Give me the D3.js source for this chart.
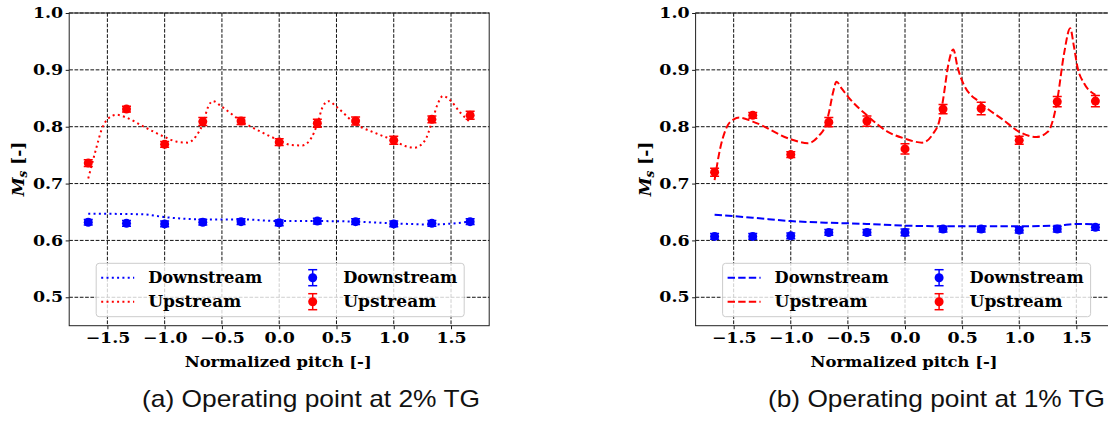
<!DOCTYPE html>
<html><head><meta charset="utf-8">
<script src="https://cdn.jsdelivr.net/npm/d3@7"></script>
<style>body{margin:0;background:#fff} svg{display:block}</style>
</head><body><svg id="c" width="1108" height="428"></svg>
<script>
// ---------- data ----------
const pitch = [-1.667,-1.333,-1.0,-0.667,-0.333,0,0.333,0.667,1.0,1.333,1.667];
const xTicks = [-1.5,-1.0,-0.5,0,0.5,1.0,1.5];
const yTicks = [0.5,0.6,0.7,0.8,0.9,1.0];
const seriesNames = ["Downstream","Upstream"];
const captions = ["(a) Operating point at 2% TG","(b) Operating point at 1% TG"];
const xLabel = "Normalized pitch [-]";

// panel (a) measured points
const aUp      = [0.736,0.831,0.769,0.809,0.810,0.773,0.806,0.810,0.776,0.813,0.820];
const aUpErr   = [0.006,0.005,0.005,0.007,0.006,0.006,0.007,0.007,0.007,0.006,0.007];
const aDown    = [0.632,0.630,0.629,0.632,0.633,0.631,0.634,0.633,0.629,0.630,0.633];
const aDownErr = [0.005,0.005,0.005,0.005,0.005,0.005,0.005,0.005,0.005,0.005,0.005];
// panel (a) simulated curves
const aUpLineX = [-1.667,-1.60,-1.55,-1.50,-1.42,-1.333,-1.20,-1.00,-0.90,-0.80,-0.72,-0.667,-0.62,-0.58,-0.50,-0.333,-0.15,0.00,0.10,0.20,0.28,0.333,0.38,0.43,0.50,0.667,0.85,1.00,1.10,1.18,1.27,1.333,1.38,1.43,1.50,1.58,1.667];
const aUpLineY = [0.709,0.760,0.795,0.813,0.821,0.816,0.802,0.782,0.774,0.772,0.785,0.805,0.835,0.845,0.835,0.810,0.790,0.776,0.768,0.767,0.780,0.805,0.835,0.845,0.835,0.805,0.788,0.776,0.766,0.763,0.775,0.808,0.838,0.854,0.845,0.825,0.808];
const aDownLineX = [-1.667,-1.2,-1.0,-0.667,-0.333,0,0.333,0.667,1.0,1.333,1.667];
const aDownLineY = [0.647,0.646,0.641,0.637,0.637,0.634,0.634,0.633,0.630,0.628,0.633];

// panel (b) measured points
const bUp      = [0.720,0.820,0.751,0.808,0.810,0.761,0.831,0.832,0.776,0.844,0.845];
const bUpErr   = [0.007,0.005,0.005,0.008,0.009,0.009,0.008,0.011,0.007,0.009,0.010];
const bDown    = [0.607,0.607,0.608,0.614,0.614,0.614,0.620,0.620,0.618,0.620,0.623];
const bDownErr = [0.005,0.005,0.005,0.005,0.005,0.006,0.005,0.005,0.005,0.005,0.005];
// panel (b) simulated curves
const bUpLineX = [-1.667,-1.62,-1.57,-1.50,-1.45,-1.333,-1.00,-0.85,-0.75,-0.70,-0.667,-0.63,-0.60,-0.55,-0.50,-0.333,-0.15,0.00,0.15,0.25,0.30,0.333,0.38,0.423,0.46,0.51,0.667,0.86,1.00,1.15,1.25,1.30,1.333,1.393,1.446,1.48,1.51,1.569,1.667];
const bUpLineY = [0.706,0.760,0.795,0.813,0.816,0.809,0.778,0.771,0.785,0.800,0.824,0.860,0.879,0.866,0.853,0.820,0.791,0.779,0.772,0.789,0.810,0.847,0.910,0.936,0.905,0.876,0.841,0.812,0.791,0.782,0.791,0.815,0.847,0.929,0.973,0.940,0.905,0.876,0.856];
const bDownLineX = [-1.667,-1.333,-1.0,-0.667,-0.333,0,0.333,0.667,1.0,1.333,1.5,1.667];
const bDownLineY = [0.645,0.640,0.634,0.631,0.629,0.626,0.625,0.625,0.625,0.626,0.629,0.628];

// ---------- drawing ----------
const svg = d3.select("#c");
const RED = "#ff0000", BLUE = "#0000ff";
const SERIF = "'DejaVu Serif', serif";
const TS = 1.2; // horizontal stretch of tick labels

const panels = [
  {x0:69.2, x1:489.2, up:aUp, upErr:aUpErr, down:aDown, downErr:aDownErr,
   upLX:aUpLineX, upLY:aUpLineY, dnLX:aDownLineX, dnLY:aDownLineY, dash:"2,3.3", cap:captions[0], capX:311, capW:338},
  {x0:695.6, x1:1114.4, up:bUp, upErr:bUpErr, down:bDown, downErr:bDownErr,
   upLX:bUpLineX, upLY:bUpLineY, dnLX:bDownLineX, dnLY:bDownLineY, dash:"7.4,3.2", cap:captions[1], capX:936.5, capW:337}
];

const yTop = 13, yBot = 325.7;

panels.forEach((p, pi) => {
  const x = d3.scaleLinear().domain([-1.8333, 1.8333]).range([p.x0, p.x1]);
  const y = d3.scaleLinear().domain([0.45, 1.0]).range([yBot, yTop]);
  const g = svg.append("g");
  const clipId = "clip" + pi;
  svg.append("clipPath").attr("id", clipId).append("rect")
    .attr("x", p.x0).attr("y", yTop).attr("width", p.x1 - p.x0).attr("height", yBot - yTop);

  // grid
  const grid = g.append("g").attr("stroke", "#111").attr("stroke-width", 1).attr("stroke-dasharray", "3.7,1.6");
  grid.selectAll(".gx").data(xTicks).enter().append("line")
    .attr("x1", d => x(d)).attr("x2", d => x(d)).attr("y1", yTop).attr("y2", yBot);
  grid.selectAll(".gy").data(yTicks).enter().append("line")
    .attr("x1", p.x0).attr("x2", p.x1).attr("y1", d => y(d)).attr("y2", d => y(d));

  // axes
  const xa = g.append("g").attr("transform", `translate(0,${yBot})`)
    .call(d3.axisBottom(x).tickValues(xTicks).tickSize(3.5).tickPadding(3.5)
      .tickFormat(d => d3.format(".1f")(d).replace("-", "\u2212")));
  const ya = g.append("g").attr("transform", `translate(${p.x0},0)`)
    .call(d3.axisLeft(y).tickValues(yTicks).tickSize(3.5).tickPadding(3.5).tickFormat(d3.format(".1f")));
  [xa, ya].forEach(a => {
    a.select(".domain").remove();
    a.selectAll("line").attr("stroke", "#000").attr("stroke-width", 0.9);
    a.selectAll("text").attr("font-family", SERIF).attr("font-weight", "bold")
      .attr("font-size", 14.5).attr("fill", "#000").attr("transform", `scale(${TS},1)`);
  });
  ya.selectAll("text").attr("x", -6 / TS);

  // spines
  g.append("rect").attr("x", p.x0).attr("y", yTop).attr("width", p.x1 - p.x0).attr("height", yBot - yTop)
    .attr("fill", "none").attr("stroke", "#222").attr("stroke-width", 1);

  // lines
  const line = d3.line().curve(d3.curveMonotoneX);
  const dl = g.append("g").attr("clip-path", `url(#${clipId})`);
  dl.append("path").attr("d", line(p.dnLX.map((v, i) => [x(v), y(p.dnLY[i])])))
    .attr("fill", "none").attr("stroke", BLUE).attr("stroke-width", 2).attr("stroke-dasharray", p.dash);
  dl.append("path").attr("d", line(p.upLX.map((v, i) => [x(v), y(p.upLY[i])])))
    .attr("fill", "none").attr("stroke", RED).attr("stroke-width", 2).attr("stroke-dasharray", p.dash);

  // error bars + points
  const drawEB = (vals, errs, col) => {
    const eg = dl.append("g").attr("stroke", col).attr("stroke-width", 1.5);
    vals.forEach((v, i) => {
      const cx = x(pitch[i]);
      eg.append("line").attr("x1", cx).attr("x2", cx).attr("y1", y(v - errs[i])).attr("y2", y(v + errs[i]));
      eg.append("line").attr("x1", cx - 4.5).attr("x2", cx + 4.5).attr("y1", y(v - errs[i])).attr("y2", y(v - errs[i]));
      eg.append("line").attr("x1", cx - 4.5).attr("x2", cx + 4.5).attr("y1", y(v + errs[i])).attr("y2", y(v + errs[i]));
      dl.append("circle").attr("cx", cx).attr("cy", y(v)).attr("r", 4.5).attr("fill", col);
    });
  };
  drawEB(p.down, p.downErr, BLUE);
  drawEB(p.up, p.upErr, RED);

  // legend
  const lx = p.x0 + 27, ly = 263.3, lw = 368, lh = 53.4;
  const lg = g.append("g");
  lg.append("rect").attr("x", lx).attr("y", ly).attr("width", lw).attr("height", lh).attr("rx", 3)
    .attr("fill", "#fff").attr("fill-opacity", 0.8).attr("stroke", "#cccccc").attr("stroke-width", 1);
  const rows = [ly + 14.4, ly + 38.4];
  [BLUE, RED].forEach((col, i) => {
    const tl = i === 0 ? 114 : 93;
    lg.append("line").attr("x1", lx + 5).attr("x2", lx + 38).attr("y1", rows[i]).attr("y2", rows[i])
      .attr("stroke", col).attr("stroke-width", 2).attr("stroke-dasharray", p.dash);
    lg.append("text").attr("x", lx + 52).attr("y", rows[i]).attr("dy", "0.36em").text(seriesNames[i])
      .attr("font-family", SERIF).attr("font-weight", "bold").attr("font-size", 16).attr("fill", "#000")
      .attr("textLength", tl).attr("lengthAdjust", "spacingAndGlyphs");
    const mx = lx + 216.5;
    const eb = lg.append("g").attr("stroke", col).attr("stroke-width", 1.5);
    eb.append("line").attr("x1", mx).attr("x2", mx).attr("y1", rows[i] - 8).attr("y2", rows[i] + 8);
    eb.append("line").attr("x1", mx - 4.5).attr("x2", mx + 4.5).attr("y1", rows[i] - 8).attr("y2", rows[i] - 8);
    eb.append("line").attr("x1", mx - 4.5).attr("x2", mx + 4.5).attr("y1", rows[i] + 8).attr("y2", rows[i] + 8);
    lg.append("circle").attr("cx", mx).attr("cy", rows[i]).attr("r", 4.5).attr("fill", col);
    lg.append("text").attr("x", lx + 247).attr("y", rows[i]).attr("dy", "0.36em").text(seriesNames[i])
      .attr("font-family", SERIF).attr("font-weight", "bold").attr("font-size", 16).attr("fill", "#000")
      .attr("textLength", tl).attr("lengthAdjust", "spacingAndGlyphs");
  });

  // axis labels
  g.append("text").attr("x", (p.x0 + p.x1) / 2 - 1).attr("y", 366.7).attr("text-anchor", "middle")
    .attr("font-family", SERIF).attr("font-weight", "bold").attr("font-size", 15.5)
    .attr("textLength", 187).attr("lengthAdjust", "spacingAndGlyphs").text(xLabel);
  const yl = g.append("text").attr("transform", `translate(${p.x0 - 45},169) rotate(-90)`)
    .attr("text-anchor", "middle").attr("font-family", SERIF).attr("font-weight", "bold").attr("font-size", 17);
  yl.append("tspan").attr("font-style", "italic").text("M");
  yl.append("tspan").attr("font-style", "italic").attr("font-size", 12).attr("dy", 3).text("s");
  yl.append("tspan").attr("dy", -3).text(" [-]");

  // caption
  svg.append("text").attr("x", p.capX).attr("y", 407).attr("text-anchor", "middle")
    .attr("font-family", "'Liberation Sans', Arial, sans-serif").attr("font-size", 24).attr("fill", "#111")
    .attr("textLength", p.capW).attr("lengthAdjust", "spacingAndGlyphs")
    .text(p.cap);
});
</script></body></html>
